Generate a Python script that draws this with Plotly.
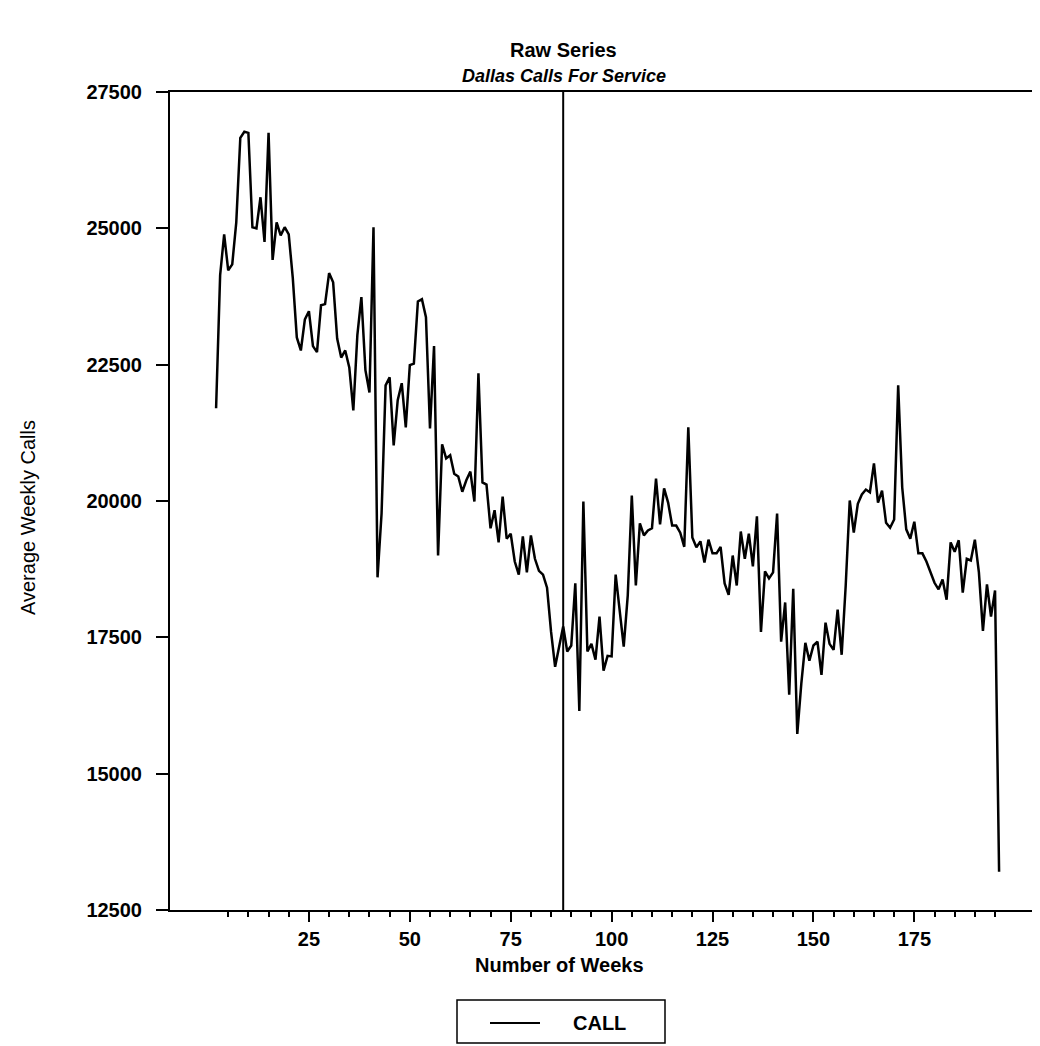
import plotly.graph_objects as go

# ---- data ----
weeks = list(range(2, 197))
calls = [
    21700, 24140, 24890, 24230, 24340, 25110, 26660, 26770, 26750, 25020,
    25000, 25570, 24750, 26750, 24420, 25110, 24870, 25020, 24890, 24090,
    23000, 22760, 23330, 23480, 22840, 22730, 23590, 23610, 24180, 24010,
    22980, 22630, 22760, 22450, 21660, 23040, 23740, 22400, 21990, 25020,
    18600, 19770, 22120, 22270, 21020, 21850, 22160, 21350, 22490, 22520,
    23660, 23700, 23370, 21330, 22840, 19000, 21040, 20780, 20840, 20500,
    20450, 20170, 20380, 20540, 19990, 22340, 20340, 20300, 19500, 19830,
    19240, 20080, 19310, 19400, 18890, 18650, 19350, 18690, 19370, 18940,
    18720, 18650, 18410, 17600, 16960, 17310, 17700, 17240, 17350, 18490,
    16150, 19990, 17240, 17380, 17090, 17880, 16890, 17160, 17150, 18650,
    17990, 17330, 18270, 20100, 18450, 19590, 19370, 19460, 19500, 20410,
    19570, 20230, 19970, 19550, 19550, 19420, 19160, 21350, 19330, 19150,
    19260, 18870, 19290, 19040, 19040, 19160, 18490, 18280, 19000, 18450,
    19440, 18940, 19400, 18800, 19720, 17600, 18710, 18580, 18690, 19770,
    17420, 18140, 16450, 18390, 15730, 16650, 17400, 17070, 17350, 17420,
    16810, 17770, 17380, 17270, 18010, 17180, 18450, 20010, 19420, 19950,
    20120, 20210, 20160, 20690, 19970, 20190, 19600, 19510, 19660, 22120,
    20250, 19480, 19310, 19620, 19040, 19040, 18890, 18710, 18500, 18380,
    18560, 18190, 19240, 19070, 19280, 18320, 18940, 18910, 19290, 18690,
    17620, 18470, 17880, 18360, 13200,
]
series_name = "CALL"
intervention_week = 88
x_ticks = [25, 50, 75, 100, 125, 150, 175]
x_minor = list(range(5, 200, 5))
y_ticks = [12500, 15000, 17500, 20000, 22500, 25000, 27500]
y_tick_labels = [str(v) for v in y_ticks]

FONT = "Arial, Liberation Sans, sans-serif"
W, H = 1040, 1046
OFF = 8  # page body margin
# plot area in page pixels: left 170, top 92, bottom 910
L, T = 170 - OFF, 92 - OFF
B = H - (910 - OFF)
R = 0
PW, PH = W - L - R, H - T - B


def px_x(px):
    return (px - OFF - L) / PW


def px_y(py):
    return (H - B - (py - OFF)) / PH


fig = go.Figure()
fig.add_trace(go.Scatter(
    x=weeks, y=calls, mode="lines", name=series_name, showlegend=False,
    line=dict(color="black", width=2.5),
))

fig.add_shape(type="line", xref="x", yref="paper",
              x0=intervention_week, x1=intervention_week, y0=0, y1=1,
              line=dict(color="black", width=2))

# legend box, sample line and label
fig.add_shape(type="rect", xref="paper", yref="paper",
              x0=px_x(457), x1=px_x(665), y0=px_y(1043), y1=px_y(1000),
              line=dict(color="black", width=1.5), fillcolor="rgba(0,0,0,0)")
fig.add_shape(type="line", xref="paper", yref="paper",
              x0=px_x(490), x1=px_x(540), y0=px_y(1023), y1=px_y(1023),
              line=dict(color="black", width=2))

x_left_week = -9.42
week_px = 4.036
x_right_week = x_left_week + PW / week_px

fig.update_layout(
    width=W, height=H,
    margin=dict(l=L, r=R, t=T, b=B, pad=0),
    paper_bgcolor="white", plot_bgcolor="white",
    font=dict(family=FONT, color="black"),
    showlegend=False,
    xaxis=dict(
        range=[x_left_week, x_right_week], showgrid=False, zeroline=False,
        showline=True, linecolor="black", linewidth=2, mirror=True,
        tickmode="array", tickvals=x_ticks, ticks="outside", ticklen=10,
        tickwidth=1.5, tickcolor="black",
        tickfont=dict(size=20, family=FONT, weight="bold"),
        minor=dict(tickmode="array", tickvals=x_minor, ticks="outside",
                   ticklen=5, tickwidth=1.5, tickcolor="black"),
    ),
    yaxis=dict(
        range=[12500, 27500], showgrid=False, zeroline=False,
        showline=True, linecolor="black", linewidth=2,
        tickmode="array", tickvals=y_ticks, ticktext=y_tick_labels,
        ticks="outside", ticklen=12,
        tickwidth=1.5, tickcolor="black", ticklabelstandoff=10,
        tickfont=dict(size=20, family=FONT, weight="bold"),
    ),
    annotations=[
        dict(text="<b>Raw Series</b>", xref="paper", yref="paper",
             x=px_x(563), y=px_y(50), xanchor="center", yanchor="middle",
             showarrow=False, font=dict(size=20, family=FONT)),
        dict(text="<b><i>Dallas Calls For Service</i></b>", xref="paper", yref="paper",
             x=px_x(564), y=px_y(76), xanchor="center", yanchor="middle",
             showarrow=False, font=dict(size=18, family=FONT)),
        dict(text="<b>Number of Weeks</b>", xref="paper", yref="paper",
             x=px_x(559), y=px_y(965), xanchor="center", yanchor="middle",
             showarrow=False, font=dict(size=20, family=FONT)),
        dict(text="Average Weekly Calls", xref="paper", yref="paper",
             x=px_x(28), y=px_y(518), xanchor="center", yanchor="middle",
             textangle=-90, showarrow=False, font=dict(size=20, family=FONT)),
        dict(text="<b>" + series_name + "</b>", xref="paper", yref="paper",
             x=px_x(599), y=px_y(1023), xanchor="center", yanchor="middle",
             showarrow=False, font=dict(size=20, family=FONT)),
    ],
)

fig.write_html("out.html")
